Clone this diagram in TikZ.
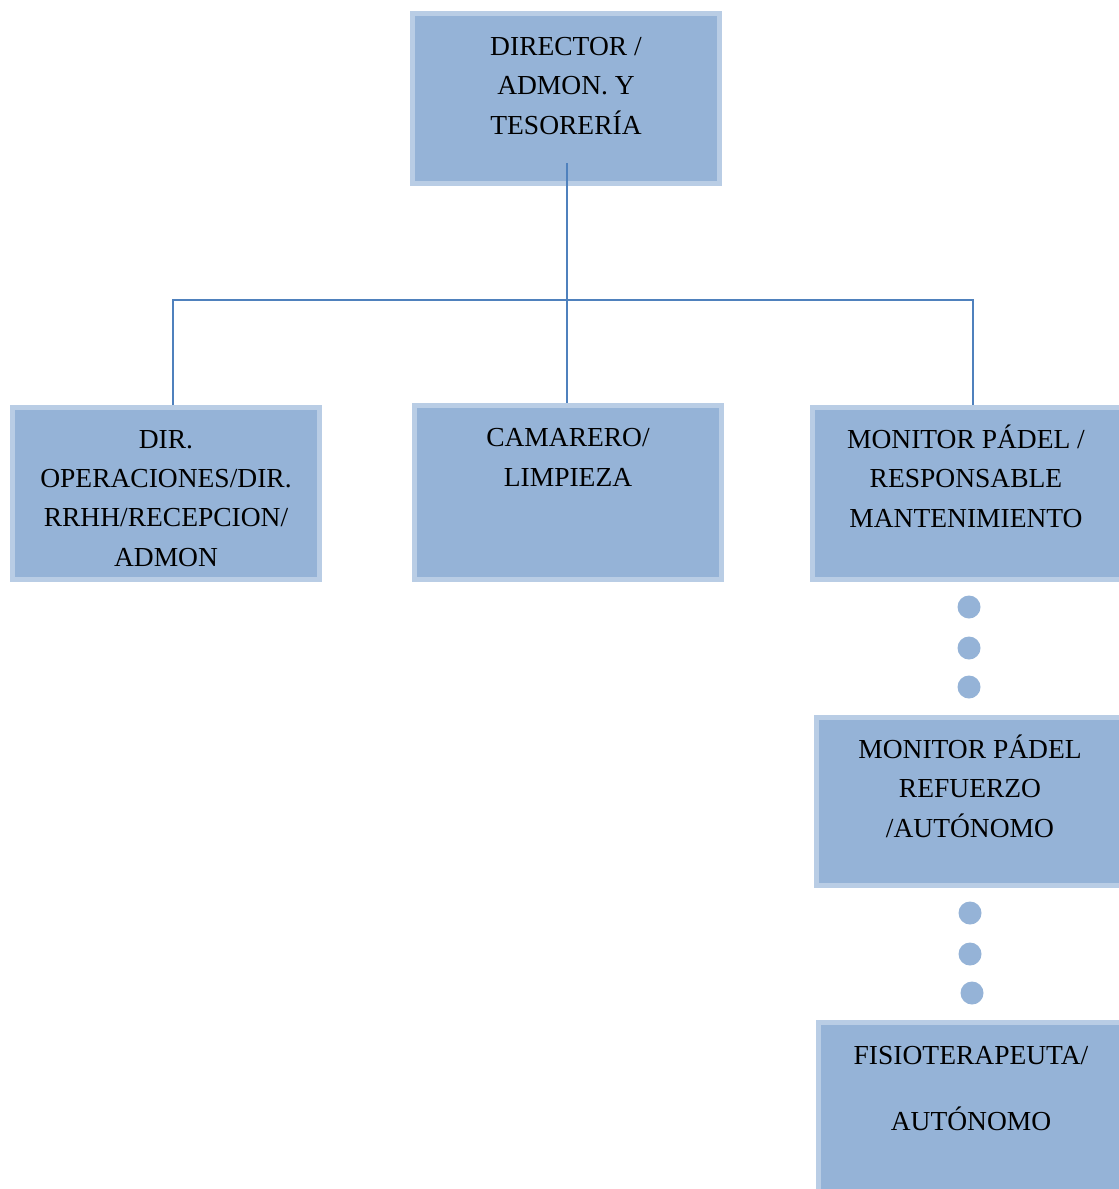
\documentclass[tikz,border=0pt]{standalone}
\usepackage{fontspec}
\setmainfont{Liberation Serif}
\definecolor{boxfill}{HTML}{95B3D7}
\definecolor{boxedge}{HTML}{B9CDE5}
\definecolor{conn}{HTML}{4F81BD}
\definecolor{dotc}{HTML}{95B3D7}
\begin{document}
\begin{tikzpicture}[x=1pt,y=-1pt,
  orgbox/.style={draw=boxedge,fill=boxfill,line width=5pt,rectangle,inner sep=0pt},
  lbl/.style={anchor=base,align=center,inner sep=0pt,font=\fontsize{27.5}{39.3}\selectfont},
  link/.style={draw=conn,line width=1.8pt},
  dotnode/.style={circle,fill=dotc,inner sep=0pt,minimum size=23pt}]
\useasboundingbox (0,0) rectangle (1119,1189);
% boxes
\node[orgbox,minimum width=307pt,minimum height=170pt] (dir) at (566,98.5) {};
\node[orgbox,minimum width=307pt,minimum height=172pt] (ops) at (166,493.5) {};
\node[orgbox,minimum width=307pt,minimum height=174pt] (cam) at (568,492.5) {};
\node[orgbox,minimum width=310pt,minimum height=172pt] (mon) at (967.5,493.5) {};
\node[orgbox,minimum width=306pt,minimum height=168pt] (ref) at (969.5,801.5) {};
\node[orgbox,minimum width=304pt,minimum height=180pt] (fis) at (970.5,1112.5) {};
% texts (anchored at the baseline of the last line)
\node[lbl] (tdir) at (566,134) {DIRECTOR /\\ADMON. Y\\TESORERÍA};
\node[lbl] (tops) at (166,566) {DIR.\\OPERACIONES/DIR.\\RRHH/RECEPCION/\\ADMON};
\node[lbl] (tcam) at (568,486) {CAMARERO/\\LIMPIEZA};
\node[lbl] (tmon) at (966,527) {MONITOR PÁDEL /\\RESPONSABLE\\MANTENIMIENTO};
\node[lbl] (tref) at (970,837) {MONITOR PÁDEL\\REFUERZO\\/AUTÓNOMO};
\node[lbl] (tfis) at (971,1130) {FISIOTERAPEUTA/\\[26pt]AUTÓNOMO};
% connectors
\coordinate (start) at (567,163);
\coordinate (bus) at (567,300);
\draw[link] (start) -- (cam.north -| start);
\draw[link] (ops.north -| 173,0) |- (bus) -| (mon.north -| 973,0);
% dots
\node[dotnode] (d1) at (969,607) {};
\node[dotnode] (d2) at (969,648) {};
\node[dotnode] (d3) at (969,687) {};
\node[dotnode] (d4) at (970,913) {};
\node[dotnode] (d5) at (970,954) {};
\node[dotnode] (d6) at (972,993) {};
\end{tikzpicture}
\end{document}
